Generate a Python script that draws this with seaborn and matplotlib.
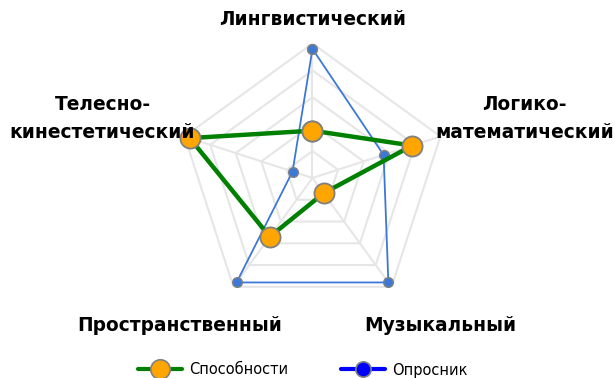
import numpy as np
import pandas as pd
import matplotlib.pyplot as plt
from matplotlib.lines import Line2D
import seaborn as sns

# data (axis max = 25)
categories = ['Лингвистический', 'Логико-\nматематический', 'Музыкальный',
              'Пространственный', 'Телесно-\nкинестетический']
abilities = [8.8, 19.5, 3.5, 13.5, 24.0]   # Способности
survey = [24.0, 13.9, 24.0, 24.0, 3.9]     # Опросник
levels = [5, 10, 15, 20, 25]
r_max = 25

sns.set_style('white')
plt.rcParams['font.family'] = ['DejaVu Sans']
plt.rcParams['text.color'] = 'black'

fig = plt.figure(figsize=(6.15, 3.78), dpi=100)
ax = fig.add_axes([0.2894, 0.1733, 0.4374, 0.7116], projection='polar')
ax.set_theta_offset(np.pi / 2)
ax.set_theta_direction(-1)

angles = np.linspace(0, 2 * np.pi, len(categories), endpoint=False)
closed = np.append(angles, angles[0] + 2 * np.pi)

# pentagon grid + spokes
for lv in levels:
    ax.plot(closed, [lv] * len(closed), color='#e6e6e6', lw=1.5, zorder=0)
for a in angles:
    ax.plot([a, a], [0, r_max], color='#e6e6e6', lw=1.5, zorder=0)

df_s = pd.DataFrame({'angle': closed, 'value': survey + survey[:1]})
df_a = pd.DataFrame({'angle': closed, 'value': abilities + abilities[:1]})

sns.lineplot(data=df_s, x='angle', y='value', sort=False, estimator=None, ax=ax,
             color='#3c78d8', lw=1.3, marker='o', markersize=7,
             markerfacecolor='#3c78d8', markeredgecolor='grey',
             markeredgewidth=1, zorder=3, clip_on=False)
sns.lineplot(data=df_a, x='angle', y='value', sort=False, estimator=None, ax=ax,
             color='green', lw=3.2, marker='o', markersize=14.5,
             markerfacecolor='orange', markeredgecolor='grey',
             markeredgewidth=1.3, zorder=4, clip_on=False)

ax.set_ylim(0, r_max)
ax.set_xticks([])
ax.set_yticks([])
ax.grid(False)
ax.spines['polar'].set_visible(False)
ax.set_xlabel('')
ax.set_ylabel('')

# category labels (x centre, baseline of first line) in pixels
label_pos = [(313, 25), (524.5, 110), (440, 330.7), (179.5, 330.7), (102.5, 110)]
W, H = 615, 378
for name, (px, py) in zip(categories, label_pos):
    for i, line in enumerate(name.split('\n')):
        fig.text(px / W, 1 - (py + i * 28) / H, line, ha='center', va='baseline',
                 fontsize=13.4, fontweight='bold', color='black')

handles = [
    Line2D([], [], color='green', lw=3, marker='o', markersize=14,
           markerfacecolor='orange', markeredgecolor='grey', markeredgewidth=1.2),
    Line2D([], [], color='blue', lw=3, marker='o', markersize=11,
           markerfacecolor='blue', markeredgecolor='grey', markeredgewidth=1.2),
]
fig.legend(handles, ['Способности', 'Опросник'], loc='center',
           bbox_to_anchor=(303 / W, 1 - 370 / H), ncol=2, frameon=False,
           fontsize=10.5, handlelength=3, columnspacing=3.6, handletextpad=0.5,
           labelcolor='black')

plt.savefig('out.png', dpi=100)
